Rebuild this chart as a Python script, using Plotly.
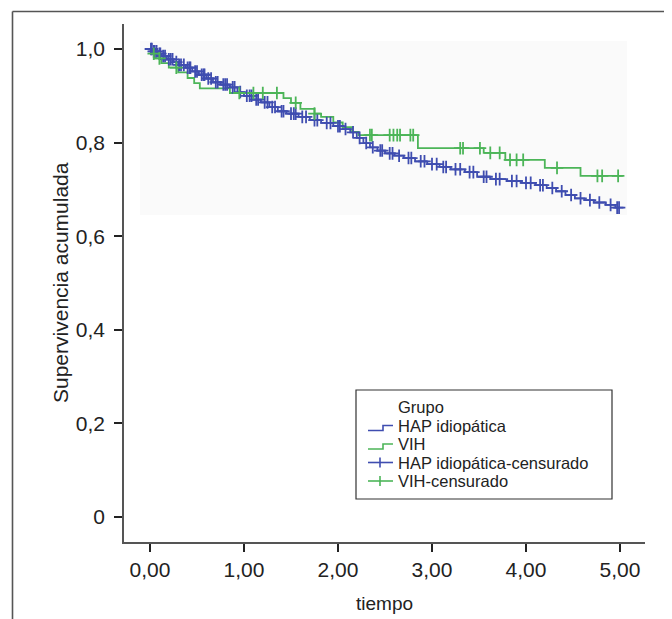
import plotly.graph_objects as go

# ---- data ----
hap_times = [0.00, 0.03, 0.08, 0.12, 0.18, 0.25, 0.30, 0.38, 0.45, 0.52, 0.60, 0.67, 0.75,
             0.85, 0.93, 1.00, 1.10, 1.18, 1.27, 1.36, 1.45, 1.58, 1.70, 1.82, 1.95, 2.05,
             2.13, 2.20, 2.27, 2.34, 2.42, 2.50, 2.60, 2.70, 2.82, 2.95, 3.08, 3.20, 3.35,
             3.48, 3.62, 3.80, 3.95, 4.10, 4.22, 4.32, 4.42, 4.52, 4.62, 4.72, 4.85, 4.95, 5.00]
hap_surv = [1.000, 0.995, 0.990, 0.985, 0.978, 0.972, 0.966, 0.960, 0.952, 0.945, 0.937, 0.929, 0.924,
            0.918, 0.908, 0.900, 0.892, 0.886, 0.876, 0.867, 0.862, 0.855, 0.848, 0.842, 0.835, 0.829,
            0.822, 0.810, 0.799, 0.790, 0.783, 0.777, 0.772, 0.767, 0.760, 0.754, 0.748, 0.743, 0.737,
            0.727, 0.722, 0.718, 0.714, 0.709, 0.703, 0.696, 0.688, 0.681, 0.677, 0.672, 0.667, 0.661, 0.661]
hap_censored = [0.01, 0.02, 0.04, 0.05, 0.07, 0.10, 0.11, 0.14, 0.16, 0.20, 0.22, 0.24, 0.28, 0.31,
                0.33, 0.36, 0.40, 0.42, 0.43, 0.48, 0.50, 0.55, 0.57, 0.58, 0.62, 0.65, 0.70, 0.72,
                0.78, 0.80, 0.82, 0.88, 0.90, 0.96, 1.03, 1.06, 1.08, 1.13, 1.15, 1.22, 1.25, 1.30,
                1.33, 1.40, 1.42, 1.50, 1.53, 1.55, 1.62, 1.66, 1.75, 1.78, 1.88, 1.92, 2.00, 2.02,
                2.08, 2.16, 2.23, 2.30, 2.37, 2.45, 2.47, 2.55, 2.58, 2.65, 2.75, 2.78, 2.88, 2.92,
                3.00, 3.05, 3.12, 3.15, 3.25, 3.30, 3.40, 3.44, 3.55, 3.58, 3.68, 3.72, 3.85, 3.90,
                4.00, 4.05, 4.15, 4.18, 4.28, 4.38, 4.48, 4.58, 4.68, 4.78, 4.90, 4.97, 4.99]

vih_times = [0.00, 0.02, 0.05, 0.12, 0.20, 0.30, 0.40, 0.47, 0.53, 0.85, 1.42, 1.50, 1.60,
             1.75, 1.82, 1.95, 2.05, 2.15, 2.22, 2.85, 3.55, 3.78, 4.20, 4.58, 5.03]
vih_surv = [1.000, 0.990, 0.980, 0.970, 0.960, 0.950, 0.938, 0.927, 0.916, 0.906, 0.895, 0.885, 0.872,
            0.862, 0.855, 0.843, 0.833, 0.823, 0.816, 0.788, 0.778, 0.763, 0.746, 0.729, 0.729]
vih_censored = [0.04, 0.10, 0.28, 0.95, 1.10, 1.20, 1.35, 1.55, 1.75, 2.34, 2.36, 2.55, 2.59, 2.63,
                2.66, 2.77, 2.80, 3.30, 3.33, 3.51, 3.62, 3.72, 3.83, 3.90, 3.97, 4.33, 4.76, 4.81, 4.98]

x_ticks = [0, 1, 2, 3, 4, 5]
x_ticklabels = ["0,00", "1,00", "2,00", "3,00", "4,00", "5,00"]
y_ticks = [0, 0.2, 0.4, 0.6, 0.8, 1.0]
y_ticklabels = ["0", "0,2", "0,4", "0,6", "0,8", "1,0"]

legend_title = "Grupo"
legend_labels = ["HAP idiopática", "VIH", "HAP idiopática-censurado", "VIH-censurado"]

BLUE = "#3f4db0"
GREEN = "#4cb558"
TXT = "#222222"
FONT = "Liberation Sans, Arial, sans-serif"


def level_at(times, surv, t):
    val = surv[0]
    for ti, si in zip(times, surv):
        if ti <= t:
            val = si
        else:
            break
    return val


fig = go.Figure()
fig.add_trace(go.Scatter(x=hap_times, y=hap_surv, mode="lines", line=dict(color=BLUE, width=1.8, shape="hv"),
                         name=legend_labels[0]))
fig.add_trace(go.Scatter(x=vih_times, y=vih_surv, mode="lines", line=dict(color=GREEN, width=1.8, shape="hv"),
                         name=legend_labels[1]))
fig.add_trace(go.Scatter(x=hap_censored, y=[level_at(hap_times, hap_surv, t) for t in hap_censored],
                         mode="markers", name=legend_labels[2],
                         marker=dict(symbol="cross-thin-open", size=9, line=dict(color=BLUE, width=1.8), color=BLUE)))
fig.add_trace(go.Scatter(x=vih_censored, y=[level_at(vih_times, vih_surv, t) for t in vih_censored],
                         mode="markers", name=legend_labels[3],
                         marker=dict(symbol="cross-thin-open", size=9, line=dict(color=GREEN, width=1.8), color=GREEN)))

# page body has an 8px margin: the figure is placed at (8, 8)
OFF = 8
W, H = 664, 611
L, T = 124 - OFF, 24 - OFF
R = W - (645 - OFF)
B = H - (542 - OFF)
pw, ph = W - L - R, H - T - B


def px(xr):
    return (xr - OFF - L) / pw


def py(yr):
    return (H - B - (yr - OFF)) / ph


def path(points):
    return "M " + " L ".join(f"{px(a):.5f},{py(b):.5f}" for a, b in points)


shapes = [
    dict(type="rect", xref="paper", yref="paper", x0=px(140), x1=px(627), y0=py(215), y1=py(41),
         fillcolor="#fafafa", line=dict(width=0), layer="below"),
    dict(type="line", xref="paper", yref="paper", x0=px(12.5), x1=px(700), y0=py(11.5), y1=py(11.5),
         line=dict(color="#555555", width=1.6)),
    dict(type="line", xref="paper", yref="paper", x0=px(12.5), x1=px(12.5), y0=py(11.5), y1=py(640),
         line=dict(color="#555555", width=1.6)),
    # legend box
    dict(type="rect", xref="paper", yref="paper", x0=px(356), x1=px(612), y0=py(499), y1=py(390),
         fillcolor="white", line=dict(color="#333333", width=1.2)),
]

rows = [407, 425.5, 444, 462.5, 481]
ix0, ix1, istep = 368, 393, 383
# step-line icons
for color, yc in ((BLUE, rows[1]), (GREEN, rows[2])):
    shapes.append(dict(type="path", xref="paper", yref="paper",
                       path=path([(ix0, yc + 5), (istep, yc + 5), (istep, yc), (ix1, yc)]),
                       line=dict(color=color, width=1.6)))
# censor icons
for color, yc in ((BLUE, rows[3]), (GREEN, rows[4])):
    shapes.append(dict(type="line", xref="paper", yref="paper", x0=px(ix0), x1=px(ix1), y0=py(yc), y1=py(yc),
                       line=dict(color=color, width=1.6)))
    shapes.append(dict(type="line", xref="paper", yref="paper", x0=px(380), x1=px(380), y0=py(yc - 5),
                       y1=py(yc + 5), line=dict(color=color, width=1.6)))

annotations = [
    dict(text="Supervivencia acumulada", xref="paper", yref="paper", x=px(60), y=py(283),
         textangle=-90, showarrow=False, xanchor="center", yanchor="middle",
         font=dict(family=FONT, size=21, color=TXT)),
    dict(text="tiempo", xref="paper", yref="paper", x=px(384), y=py(603),
         showarrow=False, xanchor="center", yanchor="middle",
         font=dict(family=FONT, size=19, color=TXT)),
]
for text, yc in zip([legend_title] + legend_labels, rows):
    annotations.append(dict(text=text, xref="paper", yref="paper", x=px(397), y=py(yc),
                            showarrow=False, xanchor="left", yanchor="middle", borderpad=0,
                            font=dict(family=FONT, size=16.5, color=TXT)))

fig.update_layout(
    width=W, height=H,
    margin=dict(l=L, r=R, t=T, b=B),
    paper_bgcolor="white", plot_bgcolor="white",
    font=dict(family=FONT, size=18, color=TXT),
    showlegend=False,
    shapes=shapes,
    annotations=annotations,
)
fig.update_xaxes(range=[(124 - 150) / 94, (645 - 150) / 94], tickvals=x_ticks, ticktext=x_ticklabels,
                 showgrid=False, zeroline=False, showline=True, linecolor="#555555", linewidth=1.6,
                 ticks="outside", ticklen=8, tickwidth=1.6, tickcolor=TXT,
                 tickfont=dict(family=FONT, size=21, color=TXT))
fig.update_yaxes(range=[(517 - 542) / 468, (517 - 24) / 468], tickvals=y_ticks, ticktext=y_ticklabels,
                 showgrid=False, zeroline=False, showline=True, linecolor="#555555", linewidth=1.6,
                 ticks="outside", ticklen=8, tickwidth=1.6, tickcolor=TXT, ticklabelstandoff=5,
                 tickfont=dict(family=FONT, size=21, color=TXT))

fig.write_html("out.html")
